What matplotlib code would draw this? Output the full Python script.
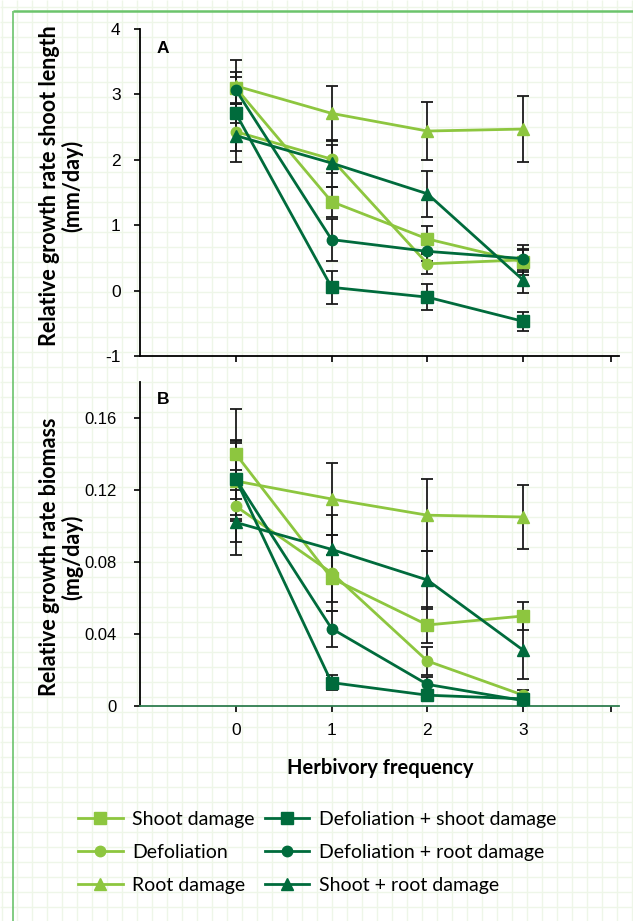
import matplotlib
matplotlib.use("Agg")
import matplotlib.pyplot as plt
import numpy as np

# herbivory frequency (x positions)
freq = [0, 1, 2, 3]

# panel A: relative growth rate shoot length (mm/day)
shoot_A = [3.10, 1.36, 0.79, 0.44]
defol_A = [2.43, 2.01, 0.41, 0.47]
root_A = [3.13, 2.71, 2.44, 2.47]
defshoot_A = [2.71, 0.05, -0.10, -0.47]
defroot_A = [3.07, 0.78, 0.60, 0.49]
shootroot_A = [2.37, 1.95, 1.48, 0.16]

shoot_A_err = [0.25, 0.23, 0.20, 0.20]
defol_A_err = [0.30, 0.21, 0.15, 0.15]
root_A_err = [0.40, 0.42, 0.45, 0.50]
defshoot_A_err = [0.15, 0.25, 0.20, 0.15]
defroot_A_err = [0.20, 0.32, 0.15, 0.20]
shootroot_A_err = [0.40, 0.36, 0.35, 0.20]

# panel B: relative growth rate biomass (mg/day)
shoot_B = [0.140, 0.071, 0.045, 0.050]
defol_B = [0.111, 0.074, 0.025, 0.006]
root_B = [0.125, 0.115, 0.106, 0.105]
defshoot_B = [0.126, 0.013, 0.006, 0.004]
defroot_B = [0.126, 0.043, 0.012, 0.003]
shootroot_B = [0.102, 0.087, 0.070, 0.031]

shoot_B_err = [0.025, 0.013, 0.010, 0.008]
defol_B_err = [0.020, 0.021, 0.008, 0.003]
root_B_err = [0.022, 0.020, 0.020, 0.018]
defshoot_B_err = [0.020, 0.004, 0.002, 0.002]
defroot_B_err = [0.022, 0.010, 0.004, 0.002]
shootroot_B_err = [0.018, 0.019, 0.016, 0.016]

labels = ["Shoot damage", "Defoliation", "Root damage",
          "Defoliation + shoot damage", "Defoliation + root damage",
          "Shoot + root damage"]

light = "#8dc63f"
dark = "#006b3c"
colors = [light, light, light, dark, dark, dark]
markers = ["s", "o", "^", "s", "o", "^"]
msizes = [8.5, 7.5, 8.5, 8.5, 7.5, 8.5]

W, H = 633, 921
fig = plt.figure(figsize=(W / 100, H / 100), dpi=100)

# faint grid paper background + green frame
bg = fig.add_axes([0, 0, 1, 1], zorder=-5)
bg.set_xlim(0, W)
bg.set_ylim(H, 0)
bg.axis("off")
bg.vlines(np.arange(1.7, W, 15), 0, H, color="#eef6e8", lw=1.0)
bg.hlines(np.arange(6.7, H, 15), 0, W, color="#eef6e8", lw=1.0)
bg.plot([13, W], [10.7, 10.7], color="#6cc46c", lw=1.8, solid_capstyle="butt")
bg.plot([13, 13], [10.7, H], color="#6cc46c", lw=1.2, solid_capstyle="butt")


def panel(ax, series, errs, ylim, yticks, yticklabels, fsize, ypad):
    for vals, err in zip(series, errs):
        ax.errorbar(freq, vals, yerr=err, fmt="none", ecolor="#1a1a1a",
                    elinewidth=1.3, capsize=4, capthick=1.3, zorder=2)
    handles = []
    for vals, c, m, ms, lab in zip(series, colors, markers, msizes, labels):
        h, = ax.plot(freq, vals, color=c, marker=m, markersize=ms, lw=2.0,
                     label=lab, zorder=3)
        handles.append(h)
    ax.set_xlim(-1, 4)
    ax.set_ylim(*ylim)
    ax.set_yticks(yticks)
    ax.set_yticklabels(yticklabels, family="Liberation Sans", fontsize=fsize)
    ax.set_xticks([0, 1, 2, 3, 3.92])
    ax.set_facecolor("none")
    for s in ["top", "right"]:
        ax.spines[s].set_visible(False)
    ax.spines["left"].set_linewidth(1.3)
    ax.spines["bottom"].set_linewidth(1.3)
    ax.tick_params(direction="out", length=4, width=1.2)
    ax.tick_params(axis="y", pad=ypad)
    return handles


axA = fig.add_axes([140 / W, 1 - 356 / H, 479 / W, 327 / H])
hA = panel(axA,
           [shoot_A, defol_A, root_A, defshoot_A, defroot_A, shootroot_A],
           [shoot_A_err, defol_A_err, root_A_err, defshoot_A_err,
            defroot_A_err, shootroot_A_err],
           (-1, 4), [-1, 0, 1, 2, 3, 4],
           ["-1", "0", "1", "2", "3", "4"], 12.5, 10)
axA.set_xticklabels([])
axA.text(0.035, 0.94, "A", transform=axA.transAxes, fontsize=12.5,
         fontweight="bold", family="Liberation Sans", va="center")

axB = fig.add_axes([140 / W, 1 - 706 / H, 479 / W, 324 / H])
panel(axB,
      [shoot_B, defol_B, root_B, defshoot_B, defroot_B, shootroot_B],
      [shoot_B_err, defol_B_err, root_B_err, defshoot_B_err,
       defroot_B_err, shootroot_B_err],
      (0, 0.18), [0, 0.04, 0.08, 0.12, 0.16],
      ["0", "0.04", "0.08", "0.12", "0.16"], 12, 13)
axB.set_xticklabels(["0", "1", "2", "3", ""], family="Liberation Sans",
                    fontsize=12.5)
axB.spines["bottom"].set_color("#2e7d4f")
axB.tick_params(axis="x", pad=8)
axB.text(0.035, 0.945, "B", transform=axB.transAxes, fontsize=12.5,
         fontweight="bold", family="Liberation Sans", va="center")

# axis titles
fig.text(61 / W, 1 - 186 / H, "Relative growth rate shoot length\n(mm/day)",
         rotation=90, ha="center", va="center", multialignment="center",
         family="Lato", fontweight="bold", fontsize=15.5, linespacing=1.05)
fig.text(61 / W, 1 - 557 / H, "Relative growth rate biomass\n(mg/day)",
         rotation=90, ha="center", va="center", multialignment="center",
         family="Lato", fontweight="bold", fontsize=15.5, linespacing=1.05)
fig.text(380 / W, 1 - 768 / H, "Herbivory frequency", ha="center",
         va="center", family="Lato", fontweight="bold", fontsize=14.5)

fig.legend(handles=hA, loc="upper left", bbox_to_anchor=(78 / W, 1 - 811 / H),
           ncol=2, frameon=False, borderpad=0, borderaxespad=0,
           handlelength=2.3, handletextpad=0.5, columnspacing=0.5,
           labelspacing=0.82, prop={"family": "Lato", "size": 14})

fig.savefig("out.png", dpi=100)
